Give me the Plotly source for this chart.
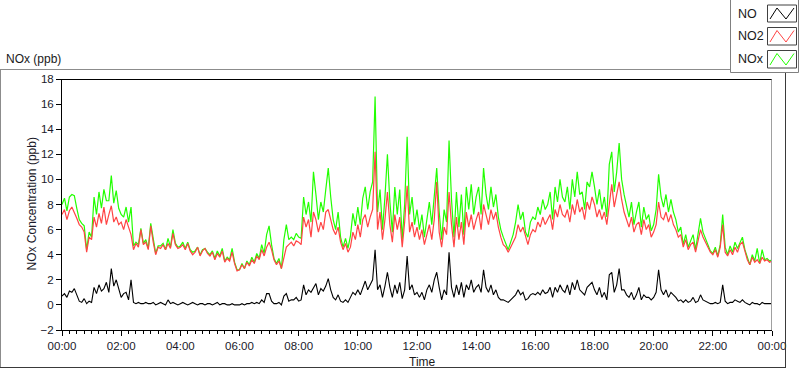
import pandas as pd
import plotly.graph_objects as go

# 5-minute samples, 00:00 .. 24:00
NO2 = [
    7.2, 7.6, 6.8, 7.5, 7.8, 7.4, 6.9, 6.4, 6.2, 5.8, 4.2, 5.4,
    5.2, 7.0, 6.2, 7.3, 6.5, 7.8, 6.4, 7.2, 7.9, 6.6, 7.0, 6.4,
    6.6, 6.0, 6.8, 6.2, 5.6, 4.4, 4.9, 4.6, 6.0, 4.8, 5.0, 4.4,
    6.3, 5.0, 4.0, 4.6, 4.5, 4.8, 4.4, 4.9, 4.5, 5.7, 4.8, 4.5,
    4.6, 4.8, 4.4, 4.9, 4.3, 4.0, 4.2, 4.6, 3.9, 4.3, 4.5, 4.1,
    3.9, 4.2, 3.6, 4.1, 3.8, 4.3, 3.4, 3.7, 3.5, 4.2, 3.3, 2.7,
    2.8, 3.2, 2.9, 3.4, 3.1, 3.6, 3.3, 3.9, 3.6, 4.4, 3.9, 4.6,
    5.0, 4.4, 3.6, 3.2, 3.5, 2.9, 3.8, 4.6, 4.8, 5.0, 4.7, 5.1,
    5.0, 4.8, 7.0, 6.2, 6.8, 5.4, 7.4, 6.8, 5.8, 6.6, 6.0, 7.4,
    7.6, 6.8, 6.0, 5.6, 6.2, 5.0, 4.4, 4.9, 4.2, 4.6, 5.8, 5.2,
    6.4, 5.4, 6.8, 7.2, 6.2, 7.0, 7.6, 12.2, 6.0, 7.4, 5.2, 6.8,
    9.0, 6.4, 5.0, 7.2, 6.0, 7.0, 4.6, 6.6, 9.5, 5.8, 6.6, 5.4,
    6.2, 5.2, 6.0, 4.8, 5.6, 6.4, 5.2, 6.8, 9.8, 5.8, 4.6, 6.2,
    5.6, 9.0, 6.4, 4.6, 7.0, 5.2, 6.6, 4.8, 7.4, 6.2, 7.2, 6.0,
    6.8, 7.4, 6.0, 8.0, 7.2, 6.4, 7.6, 6.8, 7.4, 6.2, 5.4, 4.8,
    4.6, 4.2, 4.6, 5.0, 5.4, 6.4, 5.8, 6.2, 5.4, 4.8, 5.6, 6.0,
    5.8, 6.6, 6.2, 7.0, 6.4, 6.8, 7.2, 6.0, 7.6, 7.0, 8.0, 7.2,
    7.0, 7.6, 6.6, 8.0, 7.2, 8.4, 7.4, 7.8, 6.8, 8.2, 7.6, 8.6,
    8.0, 7.0, 7.6, 6.8, 7.4, 6.4, 8.2, 9.6, 7.8, 8.8, 9.8, 8.4,
    7.4, 6.8, 6.2, 7.0, 5.8, 6.4, 6.6, 5.6, 6.8, 6.0, 6.4, 5.4,
    5.8, 6.4, 8.2, 7.0, 6.8, 7.4, 6.6, 7.2, 6.4, 6.0, 5.4, 5.6,
    4.6, 5.2, 4.4, 4.8, 5.0, 4.2, 5.2, 6.0, 5.4, 5.0, 4.6, 4.2,
    4.0, 4.4, 3.8, 4.6, 6.4, 4.2, 3.9, 4.4, 4.0, 4.6, 4.2, 4.8,
    5.0, 4.2, 3.6, 3.2, 3.8, 3.4, 3.6, 3.3, 3.8, 3.5, 3.6, 3.4,
    3.5,
]

NO = [
    0.7, 0.9, 0.6, 1.1, 1.0, 1.3, 0.8, 0.3, 0.2, 0.5, 0.1, 0.3,
    0.2, 1.4, 0.9, 1.6, 1.1, 1.3, 1.8, 1.0, 2.9, 1.5, 2.0, 1.2,
    0.6, 0.9, 1.0, 0.4, 2.0, 0.2, 0.1, 0.2, 0.1, 0.1, 0.2, 0.1,
    0.1, 0.2, 0.0, 0.1, 0.2, 0.1, 0.0, 0.4, 0.1, 0.2, 0.1, 0.0,
    0.1, 0.2, 0.1, 0.0, 0.1, 0.2, 0.1, 0.0, 0.1, 0.1, 0.0, 0.1,
    0.1, 0.0, 0.1, 0.2, 0.0, 0.1, 0.1, 0.0, 0.0, 0.1, 0.0, 0.0,
    0.0, 0.1, 0.0, 0.1, 0.1, 0.2, 0.1, 0.2, 0.1, 0.4, 0.2, 0.9,
    0.9, 0.3, 0.1, 0.1, 0.2, 0.0, 0.7, 0.9, 0.3, 0.4, 0.4, 0.6,
    0.3, 0.4, 1.6, 0.8, 1.2, 1.0, 1.4, 1.7, 0.8, 1.3, 1.1, 1.5,
    2.1, 1.2, 0.6, 0.4, 0.8, 0.3, 0.2, 0.4, 0.2, 0.6, 1.0, 0.8,
    1.2, 0.8, 1.4, 1.9, 1.2, 1.6, 2.0, 4.4, 1.2, 1.6, 0.6, 1.5,
    2.6, 1.4, 0.6, 1.6, 0.9, 1.8, 0.5, 1.2, 3.9, 1.2, 1.6, 0.8,
    1.0, 0.6, 1.0, 0.4, 1.2, 1.6, 1.0, 2.0, 2.6, 1.4, 0.4, 1.2,
    0.8, 4.2, 1.4, 0.6, 1.6, 0.8, 1.8, 0.6, 1.6, 1.2, 2.0, 1.0,
    1.4, 1.6, 1.0, 2.8, 1.4, 1.0, 1.6, 0.8, 1.2, 0.6, 0.4, 0.4,
    0.3, 0.2, 0.4, 0.6, 0.8, 1.2, 0.8, 1.0, 0.4, 0.5, 0.8, 0.9,
    0.8, 1.0, 0.8, 1.2, 0.9, 1.0, 1.4, 0.6, 1.4, 1.0, 1.6, 1.2,
    1.0, 1.6, 0.8, 1.8, 1.2, 2.0, 1.2, 1.0, 0.8, 1.4, 1.6, 1.8,
    1.2, 0.8, 1.4, 0.6, 1.0, 0.4, 2.4, 2.6, 1.0, 1.6, 2.9, 1.2,
    1.2, 0.8, 0.6, 1.0, 0.4, 0.8, 1.4, 0.4, 0.8, 0.6, 0.6, 0.4,
    0.6, 1.0, 2.8, 1.2, 0.8, 1.2, 0.6, 1.0, 0.8, 0.6, 0.3, 0.4,
    0.2, 0.4, 0.2, 0.3, 0.6, 0.2, 0.3, 0.8, 0.4, 0.3, 0.2, 0.1,
    0.1, 0.2, 0.1, 0.2, 1.6, 0.3, 0.1, 0.2, 0.2, 0.4, 0.3, 0.2,
    0.4, 0.2, 0.1, 0.0, 0.2, 0.1, 0.1, 0.0, 0.2, 0.1, 0.1, 0.1,
    0.1,
]

NOx = [
    8.0, 8.5, 7.5, 8.6, 8.8, 8.7, 7.7, 6.8, 6.5, 6.3, 4.4, 5.8,
    5.4, 8.6, 7.2, 9.0, 7.7, 9.2, 8.3, 8.3, 10.3, 8.1, 9.1, 7.7,
    7.2, 7.0, 7.8, 6.6, 7.8, 4.7, 5.0, 4.8, 6.1, 4.9, 5.2, 4.5,
    6.5, 5.2, 4.1, 4.7, 4.7, 4.9, 4.4, 5.3, 4.6, 6.0, 4.9, 4.6,
    4.7, 5.0, 4.5, 5.0, 4.4, 4.2, 4.3, 4.6, 4.0, 4.4, 4.5, 4.2,
    4.0, 4.3, 3.7, 4.3, 3.9, 4.5, 3.5, 3.8, 3.6, 4.5, 3.4, 2.8,
    2.8, 3.3, 2.9, 3.5, 3.2, 3.8, 3.4, 4.1, 3.7, 4.8, 4.1, 5.6,
    6.3, 4.8, 3.7, 3.3, 3.7, 2.9, 5.2, 6.4, 5.2, 5.4, 5.2, 5.7,
    5.4, 5.3, 8.6, 7.2, 8.2, 6.6, 10.6, 8.8, 6.8, 8.2, 7.4, 9.2,
    10.9, 8.6, 6.8, 6.0, 7.4, 5.4, 4.6, 5.3, 4.5, 5.5, 7.3, 6.3,
    7.8, 6.4, 8.5, 9.4, 7.6, 9.0, 9.8, 16.6, 7.4, 9.2, 6.0, 8.6,
    12.0, 8.2, 5.8, 9.4, 7.2, 9.2, 5.2, 8.0, 13.4, 7.2, 8.6, 6.4,
    7.6, 6.0, 7.2, 5.4, 7.0, 8.2, 6.4, 8.8, 10.9, 7.4, 5.2, 7.6,
    6.6, 13.1, 8.4, 5.4, 9.0, 6.2, 8.8, 5.6, 9.4, 7.6, 9.6, 7.2,
    8.6, 9.4, 7.2, 10.9, 8.8, 7.6, 9.4, 7.8, 8.8, 7.0, 6.0, 5.4,
    4.9, 4.4, 5.0, 5.6, 6.6, 8.0, 6.8, 7.4, 5.8, 5.4, 6.6, 7.0,
    6.8, 7.8, 7.2, 8.4, 7.6, 8.0, 9.0, 6.8, 9.4, 8.2, 10.0, 8.6,
    8.2, 9.4, 7.6, 10.0, 8.6, 10.6, 8.8, 9.0, 7.6, 9.8, 9.4, 10.6,
    9.4, 8.0, 9.2, 7.6, 8.6, 7.0, 11.2, 12.2, 9.0, 10.6, 12.9, 10.0,
    8.8, 7.8, 7.0, 8.2, 6.4, 7.4, 8.2, 6.2, 7.8, 6.8, 7.2, 5.9,
    6.4, 7.6, 10.4, 8.6, 7.8, 8.8, 7.4, 8.4, 7.4, 6.8, 5.8, 6.2,
    4.8, 5.6, 4.6, 5.1, 5.6, 4.4, 5.5, 6.9, 5.8, 5.3, 4.8, 4.3,
    4.1, 4.6, 3.9, 4.8, 7.2, 4.6, 4.0, 4.7, 4.2, 5.0, 4.5, 5.0,
    5.4, 4.4, 3.7, 3.2, 4.0, 3.5, 4.5, 3.3, 4.4, 3.6, 3.7, 3.5,
    3.6,
]

times = pd.date_range("2000-01-01 00:00", periods=len(NO2), freq="5min")
tick_labels = ["00:00", "02:00", "04:00", "06:00", "08:00", "10:00", "12:00",
               "14:00", "16:00", "18:00", "20:00", "22:00", "00:00"]
tick_vals = pd.date_range("2000-01-01 00:00", periods=13, freq="2h")
series_names = ["NO", "NO2", "NOx"]
series_colors = ["#000000", "#FF4444", "#22FF00"]

W, H = 800, 369
ML, MR, MT, MB = 62, 28, 79, 39
PW, PH = W - ML - MR, H - MT - MB
FONT = "Liberation Sans"


def px(x):
    return (x - ML) / PW


def py(y):
    return (H - MB - y) / PH


fig = go.Figure()
# LabVIEW draws the first plot on top -> add in reverse order
fig.add_trace(go.Scatter(x=times, y=NOx, mode="lines", name="NOx",
                         line=dict(color=series_colors[2], width=1.2)))
fig.add_trace(go.Scatter(x=times, y=NO2, mode="lines", name="NO2",
                         line=dict(color=series_colors[1], width=1.2)))
fig.add_trace(go.Scatter(x=times, y=NO, mode="lines", name="NO",
                         line=dict(color=series_colors[0], width=1.1)))

shapes = []
annotations = []


def seg(x0, y0, x1, y1, color, width=1):
    shapes.append(dict(type="line", xref="paper", yref="paper",
                       x0=px(x0), y0=py(y0), x1=px(x1), y1=py(y1),
                       line=dict(color=color, width=width), layer="above"))


# outer panel frame
seg(0, 69.5, 730, 69.5, "#8C8C8C")
seg(0.5, 69.5, 0.5, 368, "#8C8C8C")
seg(0, 367.5, 786, 367.5, "#3A3A3A")
seg(785.5, 72, 785.5, 368, "#3A3A3A")
# plot frame (top black, right gray)
seg(62, 79.5, 772, 79.5, "#000000")
seg(771.5, 79.5, 771.5, 330, "#A0A0A0")

# legend box
shapes.append(dict(type="rect", xref="paper", yref="paper",
                   x0=px(730.5), y0=py(-2), x1=px(798.5), y1=py(72.5),
                   line=dict(color="#808080", width=1), fillcolor="white"))
legend_rows = [(5, 22), (27.5, 45), (50.5, 68)]
for (top, bot), name, col in zip(legend_rows, series_names, series_colors):
    shapes.append(dict(type="rect", xref="paper", yref="paper",
                       x0=px(767.5), y0=py(top), x1=px(796.5), y1=py(bot),
                       line=dict(color="#404040", width=1), fillcolor="white"))
    yb, yt = bot - 3, top + 3
    pts = [(770, yb), (777, yt), (786, yb), (794, yt)]
    path = "M " + " L ".join(f"{px(a)},{py(b)}" for a, b in pts)
    shapes.append(dict(type="path", xref="paper", yref="paper", path=path,
                       line=dict(color=col, width=1)))
    annotations.append(dict(x=px(736), y=py((top + bot) / 2), xref="paper", yref="paper",
                            text=name, showarrow=False, xanchor="left", yanchor="middle",
                            font=dict(family=FONT, size=12.5, color="#1a1a1a")))

annotations.append(dict(x=px(4), y=py(59), xref="paper", yref="paper", text="NOx (ppb)",
                        showarrow=False, xanchor="left", yanchor="middle",
                        font=dict(family=FONT, size=12, color="#1a1a1a")))
annotations.append(dict(x=px(31), y=py(204.5), xref="paper", yref="paper",
                        text="NOx Concentration (ppb)", textangle=-90,
                        showarrow=False, xanchor="center", yanchor="middle",
                        font=dict(family=FONT, size=12, color="#1a1a2a")))
annotations.append(dict(x=px(422), y=py(361.5), xref="paper", yref="paper", text="Time",
                        showarrow=False, xanchor="center", yanchor="middle",
                        font=dict(family=FONT, size=12, color="#1a1a1a")))

fig.update_layout(
    width=W, height=H,
    margin=dict(l=ML, r=MR, t=MT, b=MB, pad=0),
    paper_bgcolor="white", plot_bgcolor="white",
    showlegend=False,
    hovermode=False,
    shapes=shapes,
    annotations=annotations,
    font=dict(family=FONT, size=11.5, color="#1a1a1a"),
    xaxis=dict(
        type="date",
        range=[tick_vals[0], tick_vals[-1]],
        tickvals=list(tick_vals), ticktext=tick_labels,
        ticks="outside", ticklen=5, tickcolor="#000", tickwidth=1,
        minor=dict(dtick=15 * 60 * 1000, ticks="outside", ticklen=3,
                   tickcolor="#000", showgrid=False),
        showline=True, linecolor="#000", linewidth=1,
        showgrid=False, zeroline=False,
        tickfont=dict(family=FONT, size=11.5, color="#1a1a2a"),
    ),
    yaxis=dict(
        range=[-2, 18], dtick=2, tick0=0,
        ticks="outside", ticklen=5, tickcolor="#000",
        showline=True, linecolor="#000", linewidth=1,
        showgrid=False, zeroline=False,
        tickfont=dict(family=FONT, size=11.5, color="#1a1a2a"),
    ),
)

fig.write_html(
    "out.html",
    config={"displayModeBar": False, "staticPlot": True},
    post_script="document.body.style.margin='0';document.body.style.overflow='hidden';",
)
